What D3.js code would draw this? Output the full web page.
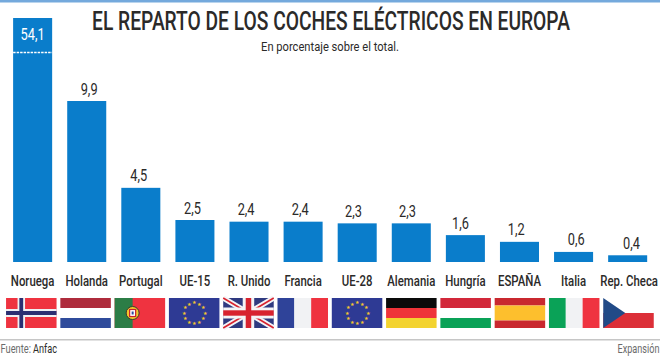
<!DOCTYPE html>
<html>
<head>
<meta charset="utf-8">
<script src="https://cdn.jsdelivr.net/npm/d3@7"></script>
<style>
  html, body { margin: 0; padding: 0; background: #fff; }
  svg { display: block; }
  text { font-family: "Roboto", "Liberation Sans", sans-serif; }
</style>
</head>
<body>
<script>
// datos
const categories = ["Noruega", "Holanda", "Portugal", "UE-15", "R. Unido", "Francia", "UE-28", "Alemania", "Hungría", "ESPAÑA", "Italia", "Rep. Checa"];
const values = [54.1, 9.9, 4.5, 2.5, 2.4, 2.4, 2.3, 2.3, 1.6, 1.2, 0.6, 0.4];
const flags = ["no", "nl", "pt", "eu", "uk", "fr", "eu", "de", "hu", "es", "it", "cz"];

const width = 660;
const height = 357;
const fmt = d3.format(".1f");
const label = v => fmt(v).replace(".", ",");

// en el original las cifras estan colocadas a mano, no centradas en la barra
const labelDx = [0, 2.4, -2, -2.5, -2.9, -2.9, -3.7, -3.8, -4.9, -3.3, 2.6, 3.8];

const svg = d3.select("body").append("svg")
  .attr("width", width)
  .attr("height", height);

// no hay fuente condensada instalada: se estrecha el texto con scale(k,1)
function squeeze(sel, px, py, k) {
  sel.attr("transform", (d, i) => `translate(${px(d, i)},${py(d, i)}) scale(${k},1)`);
}
// igual, pero para un texto suelto con ancho final conocido
function fitText(sel, px, py, w) {
  const k = w / sel.node().getComputedTextLength();
  sel.attr("transform", `translate(${px},${py}) scale(${k},1)`);
}

// banda superior
svg.append("rect").attr("width", width).attr("height", 2.5).attr("fill", "#74a9dc");

svg.append("text")
  .attr("text-anchor", "middle")
  .attr("font-size", 25)
  .attr("font-weight", 500)
  .attr("fill", "#2b2a29")
  .text("EL REPARTO DE LOS COCHES ELÉCTRICOS EN EUROPA")
  .call(fitText, 331, 30, 478);

svg.append("text")
  .attr("text-anchor", "middle")
  .attr("font-size", 13.5)
  .attr("fill", "#2b2a29")
  .text("En porcentaje sobre el total.")
  .call(fitText, 330, 51, 138);

const x = d3.scaleBand()
  .domain(categories)
  .range([5.6, 654.7])
  .paddingInner(0.2785)
  .paddingOuter(0.139);

// las banderas van un poco mas abiertas que las barras
const xFlag = d3.scalePoint()
  .domain(categories)
  .range([31.3, 628.5]);

// eje cortado: Noruega no cabe a escala
const y = d3.scaleLinear()
  .domain([0, 2.5, 9.9, 54.1])
  .range([262, 220, 101, 18]);

const bars = svg.append("g");
bars.selectAll("rect")
  .data(values)
  .join("rect")
  .attr("x", (d, i) => x(categories[i]))
  .attr("y", d => y(d))
  .attr("width", x.bandwidth())
  .attr("height", d => y(0) - y(d))
  .attr("fill", "#0a7dcb");

// marca de corte en la barra mayor
svg.append("line")
  .attr("x1", x(categories[0])).attr("x2", x(categories[0]) + x.bandwidth())
  .attr("y1", 52.5).attr("y2", 52.5)
  .attr("stroke", "#fff").attr("stroke-width", 1.4)
  .attr("stroke-dasharray", "2.5 1");

svg.append("g")
  .attr("text-anchor", "middle")
  .attr("font-size", 16)
  .selectAll("text")
  .data(values)
  .join("text")
  .attr("fill", (d, i) => i === 0 ? "#fff" : "#2b2a29")
  .text(label)
  .call(squeeze,
    (d, i) => x(categories[i]) + x.bandwidth() / 2 + labelDx[i],
    (d, i) => i === 0 ? y(d) + 22 : y(d) - 6.5,
    0.8);

svg.append("g")
  .attr("text-anchor", "middle")
  .attr("font-size", 15)
  .attr("font-weight", 500)
  .attr("fill", "#2b2a29")
  .selectAll("text")
  .data(categories)
  .join("text")
  .text(d => d)
  .call(squeeze, d => x(d) + x.bandwidth() / 2 + (d === "Rep. Checa" ? 1.5 : 0), () => 286, 0.76);

// banderas
const fw = 50.5, fh = 30;
const red = "#ef3340";

function stripesH(g, cols, shares) {
  const s = d3.scaleLinear().domain([0, d3.sum(shares)]).range([0, fh]);
  let acc = 0;
  cols.forEach((c, i) => {
    g.append("rect").attr("y", s(acc)).attr("width", fw).attr("height", s(shares[i])).attr("fill", c);
    acc += shares[i];
  });
}
function stripesV(g, cols) {
  cols.forEach((c, i) => {
    g.append("rect").attr("x", i * fw / cols.length).attr("width", fw / cols.length).attr("height", fh).attr("fill", c);
  });
}
function euStars(g) {
  g.append("rect").attr("width", fw).attr("height", fh).attr("fill", "#2e3a94");
  d3.range(12).forEach(i => {
    const a = i * Math.PI / 6;
    g.append("text")
      .attr("x", fw / 2 + 10.5 * Math.cos(a)).attr("y", fh / 2 + 10.5 * Math.sin(a) + 1.6)
      .attr("text-anchor", "middle").attr("font-size", 5)
      .attr("font-family", "DejaVu Sans")
      .attr("fill", "#f5c82e").text("★");
  });
}
const drawFlag = {
  no(g) {
    g.append("rect").attr("width", fw).attr("height", fh).attr("fill", red);
    g.append("rect").attr("x", 11.5).attr("width", 7.5).attr("height", fh).attr("fill", "#eef0f3");
    g.append("rect").attr("y", 11).attr("width", fw).attr("height", 8).attr("fill", "#eef0f3");
    g.append("rect").attr("x", 13.3).attr("width", 3.8).attr("height", fh).attr("fill", "#2b2f72");
    g.append("rect").attr("y", 13).attr("width", fw).attr("height", 4).attr("fill", "#2b2f72");
  },
  nl(g) { stripesH(g, ["#ae2b3c", "#fff", "#2f4b9b"], [1, 1, 1]); },
  pt(g) {
    g.append("rect").attr("width", fw).attr("height", fh).attr("fill", red);
    g.append("rect").attr("width", 18).attr("height", fh).attr("fill", "#2c7d46");
    g.append("circle").attr("cx", 18).attr("cy", 15).attr("r", 6.5).attr("fill", "#f2c72c").attr("stroke", "#3a3a2a").attr("stroke-width", 1);
    g.append("rect").attr("x", 15).attr("y", 11.5).attr("width", 6).attr("height", 7).attr("fill", "#fff").attr("stroke", "#c8202f").attr("stroke-width", 1.2);
    g.append("rect").attr("x", 17).attr("y", 13.5).attr("width", 2).attr("height", 3).attr("fill", "#2f4b9b");
  },
  eu: euStars,
  uk(g) {
    g.append("rect").attr("width", fw).attr("height", fh).attr("fill", "#2f3a80");
    g.append("path").attr("d", `M0,0L${fw},${fh}M${fw},0L0,${fh}`).attr("stroke", "#f4f4f6").attr("stroke-width", 5.5);
    g.append("path").attr("d", `M0,0L${fw},${fh}M${fw},0L0,${fh}`).attr("stroke", "#d8232f").attr("stroke-width", 1.6);
    g.append("rect").attr("x", 19.5).attr("width", 11.5).attr("height", fh).attr("fill", "#f4f4f6");
    g.append("rect").attr("y", 9.5).attr("width", fw).attr("height", 11).attr("fill", "#f4f4f6");
    g.append("rect").attr("x", 22.5).attr("width", 5.5).attr("height", fh).attr("fill", "#d8232f");
    g.append("rect").attr("y", 12.3).attr("width", fw).attr("height", 5.4).attr("fill", "#d8232f");
  },
  fr(g) { stripesV(g, ["#2f4399", "#f1f2f4", red]); },
  de(g) { stripesH(g, ["#0a0a0a", "#ef3339", "#f3d32f"], [1, 1, 1]); },
  hu(g) { stripesH(g, ["#d2283a", "#fff", "#0aa257"], [1, 1, 1]); },
  es(g) { stripesH(g, ["#c9282f", "#fdbf2d", "#c9282f"], [1, 2, 1]); },
  it(g) { stripesV(g, ["#0aa257", "#f1f2f4", red]); },
  cz(g) {
    stripesH(g, ["#fff", "#dc2f38"], [1, 1]);
    g.append("path").attr("d", `M0,0L22,15L0,${fh}Z`).attr("fill", "#214a87");
  }
};

const flagG = svg.append("g");
categories.forEach((c, i) => {
  const g = flagG.append("g")
    .attr("transform", `translate(${xFlag(c) - fw / 2},298)`);
  drawFlag[flags[i]](g);
});

// pie
svg.append("rect").attr("y", 339).attr("width", width).attr("height", 1.5).attr("fill", "#c6c6c6");
svg.append("text")
  .attr("font-size", 13).attr("fill", "#6b6b6b")
  .text("Fuente:")
  .call(fitText, 0.5, 353, 30.5);
svg.append("text")
  .attr("font-size", 13).attr("fill", "#2b2a29")
  .text("Anfac")
  .call(fitText, 33, 353, 24);
svg.append("text")
  .attr("text-anchor", "end").attr("font-size", 13)
  .attr("fill", "#6b6b6b")
  .text("Expansión")
  .call(fitText, 659.5, 353, 42);
</script>
</body>
</html>
